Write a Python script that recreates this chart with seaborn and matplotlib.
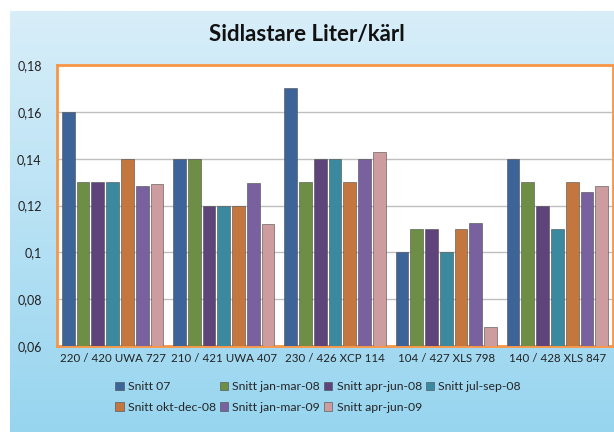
import numpy as np
import pandas as pd
import seaborn as sns
import matplotlib.pyplot as plt
from matplotlib.colors import LinearSegmentedColormap

# --- dane ---
kategorier = ['220 / 420 UWA 727', '210 / 421 UWA 407', '230 / 426 XCP 114',
              '104 / 427 XLS 798', '140 / 428 XLS 847']
serier = ['Snitt 07', 'Snitt jan-mar-08', 'Snitt apr-jun-08', 'Snitt jul-sep-08',
          'Snitt okt-dec-08', 'Snitt jan-mar-09', 'Snitt apr-jun-09']

snitt_07 = [0.16, 0.14, 0.17, 0.10, 0.14]
snitt_jan_mar_08 = [0.13, 0.14, 0.13, 0.11, 0.13]
snitt_apr_jun_08 = [0.13, 0.12, 0.14, 0.11, 0.12]
snitt_jul_sep_08 = [0.13, 0.12, 0.14, 0.10, 0.11]
snitt_okt_dec_08 = [0.14, 0.12, 0.13, 0.11, 0.13]
snitt_jan_mar_09 = [0.1285, 0.1295, 0.1399, 0.1124, 0.1256]
snitt_apr_jun_09 = [0.129, 0.112, 0.143, 0.0683, 0.1285]

varden = [snitt_07, snitt_jan_mar_08, snitt_apr_jun_08, snitt_jul_sep_08,
          snitt_okt_dec_08, snitt_jan_mar_09, snitt_apr_jun_09]

farger = ['#2D62A8', '#6F9A3A', '#5D3B84', '#2A93AE', '#DA7326', '#7657A8', '#D59497']

rows = []
for s, v in zip(serier, varden):
    for k, y in zip(kategorier, v):
        rows.append({'Kategori': k, 'Serie': s, 'Varde': y})
df = pd.DataFrame(rows)

sns.set_theme(style='white')
plt.rcParams['font.family'] = ['Lato', 'DejaVu Sans']

fig = plt.figure(figsize=(6.14, 4.32), dpi=100)

# ljusblå bakgrund med gradient
bg = fig.add_axes([10 / 614, 0, 1 - 10 / 614, 1 - 11 / 432], zorder=-5)
cmap = LinearSegmentedColormap.from_list('bg', ['#D8EEF9', '#97D5EF'])
bg.imshow(np.linspace(0, 1, 256).reshape(-1, 1), aspect='auto', cmap=cmap,
          extent=[0, 1, 0, 1])
bg.set_axis_off()

ax = fig.add_axes([57 / 614, 1 - 346 / 432, 556 / 614, 281 / 432])
ax.set_facecolor('white')
sns.barplot(data=df, x='Kategori', y='Varde', hue='Serie', palette=farger,
            width=0.93, gap=0.14, edgecolor='#4a4a4a', linewidth=0.4,
            ax=ax, zorder=3)

ax.set_ylim(0.06, 0.18)
ax.set_yticks([0.06, 0.08, 0.10, 0.12, 0.14, 0.16, 0.18])
ax.set_yticklabels(['0,06', '0,08', '0,1', '0,12', '0,14', '0,16', '0,18'])
ax.yaxis.grid(True, color='#BFBFBF', linewidth=1, zorder=0)
ax.set_axisbelow(True)
ax.set_xlabel('')
ax.set_ylabel('')
ax.tick_params(axis='both', length=0, colors='#222222')
ax.tick_params(axis='y', pad=11, labelsize=9)
ax.tick_params(axis='x', pad=5, labelsize=8.3)
for sp in ax.spines.values():
    sp.set_color('#F79646')
    sp.set_linewidth(2)

fig.text(0.5, 1 - 35 / 432, 'Sidlastare Liter/kärl', ha='center', va='center',
         fontsize=16, fontweight='bold', color='#111111')

# legend: radvis ordning
handles, labels = ax.get_legend_handles_labels()
ordning = [0, 4, 1, 5, 2, 6, 3]
ax.legend([handles[i] for i in ordning], [labels[i] for i in ordning],
          ncol=4, frameon=False, fontsize=8.8, loc='center',
          bbox_to_anchor=(318 / 614, 1 - 397 / 432), bbox_transform=fig.transFigure,
          handlelength=0.7, handleheight=0.7, handletextpad=0.35,
          columnspacing=0.3, labelspacing=0.75)

fig.savefig('out.png', dpi=100)
